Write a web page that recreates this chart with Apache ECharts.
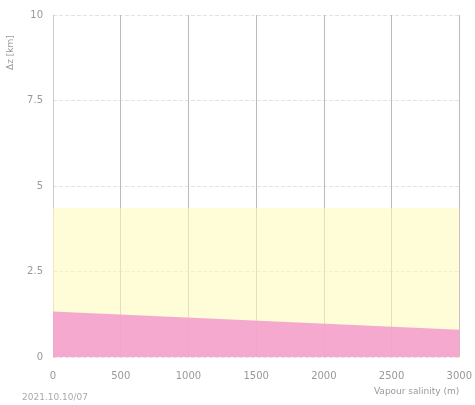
<!DOCTYPE html>
<html><head><meta charset="utf-8">
<script src="https://cdn.jsdelivr.net/npm/echarts@6/dist/echarts.min.js"></script>
<style>html,body{margin:0;padding:0;background:#fff}#c{width:475px;height:405px}</style>
</head><body><div id="c"></div>
<script>
const xTicks = [0, 500, 1000, 1500, 2000, 2500, 3000];
const yTicks = [0, 2.5, 5, 7.5, 10];
const bandX = [0, 3000];
const yellowBand = [4.35, 4.35];
const pinkX = [0, 3000];
const pinkTop = [1.33, 0.8];

const chart = echarts.init(document.getElementById('c'));
chart.setOption({
  animation: false,
  backgroundColor: '#fff',
  grid: {left: 53, right: 13, top: 15, bottom: 48},
  graphic: [
    {type: 'text', left: 22, top: 393, style: {text: '2021.10.10/07', fill: '#aaa', font: '9px "DejaVu Sans"'}},
    {type: 'text', x: 6, y: 70, rotation: Math.PI / 2, style: {text: 'Δz [km]', fill: '#999', font: '9px "DejaVu Sans"'}}
  ],
  xAxis: {type: 'value', min: 0, max: 3000, interval: 500,
    name: 'Vapour salinity (m)', nameLocation: 'end', nameGap: 0,
    nameTextStyle: {color: '#999', fontSize: 9, fontFamily: 'DejaVu Sans', align: 'right', verticalAlign: 'top', padding: [30, 0, 0, 0]},
    axisLine: {show: false}, axisTick: {show: false},
    axisLabel: {color: '#999', fontSize: 10, fontFamily: 'DejaVu Sans', margin: 14, formatter: v => String(v)},
    splitLine: {show: true, lineStyle: {color: '#bbb', width: 1}}},
  yAxis: {type: 'value', min: 0, max: 10, interval: 2.5,
    axisLine: {show: true, lineStyle: {color: '#ccc'}}, axisTick: {show: false},
    axisLabel: {color: '#999', fontSize: 10, fontFamily: 'DejaVu Sans', margin: 10},
    splitLine: {show: true, lineStyle: {color: '#e2e2e2', type: 'dashed', width: 1}}},
  series: [
    {type: 'line', data: bandX.map((x, i) => [x, yellowBand[i]]), symbol: 'none',
     lineStyle: {width: 0}, areaStyle: {color: 'rgba(253,251,188,0.85)'}, z: 1},
    {type: 'line', data: pinkX.map((x, i) => [x, pinkTop[i]]), symbol: 'none',
     lineStyle: {width: 0}, areaStyle: {color: 'rgba(245,160,205,0.9)', opacity: 1}, z: 2}
  ]
});
</script></body></html>
